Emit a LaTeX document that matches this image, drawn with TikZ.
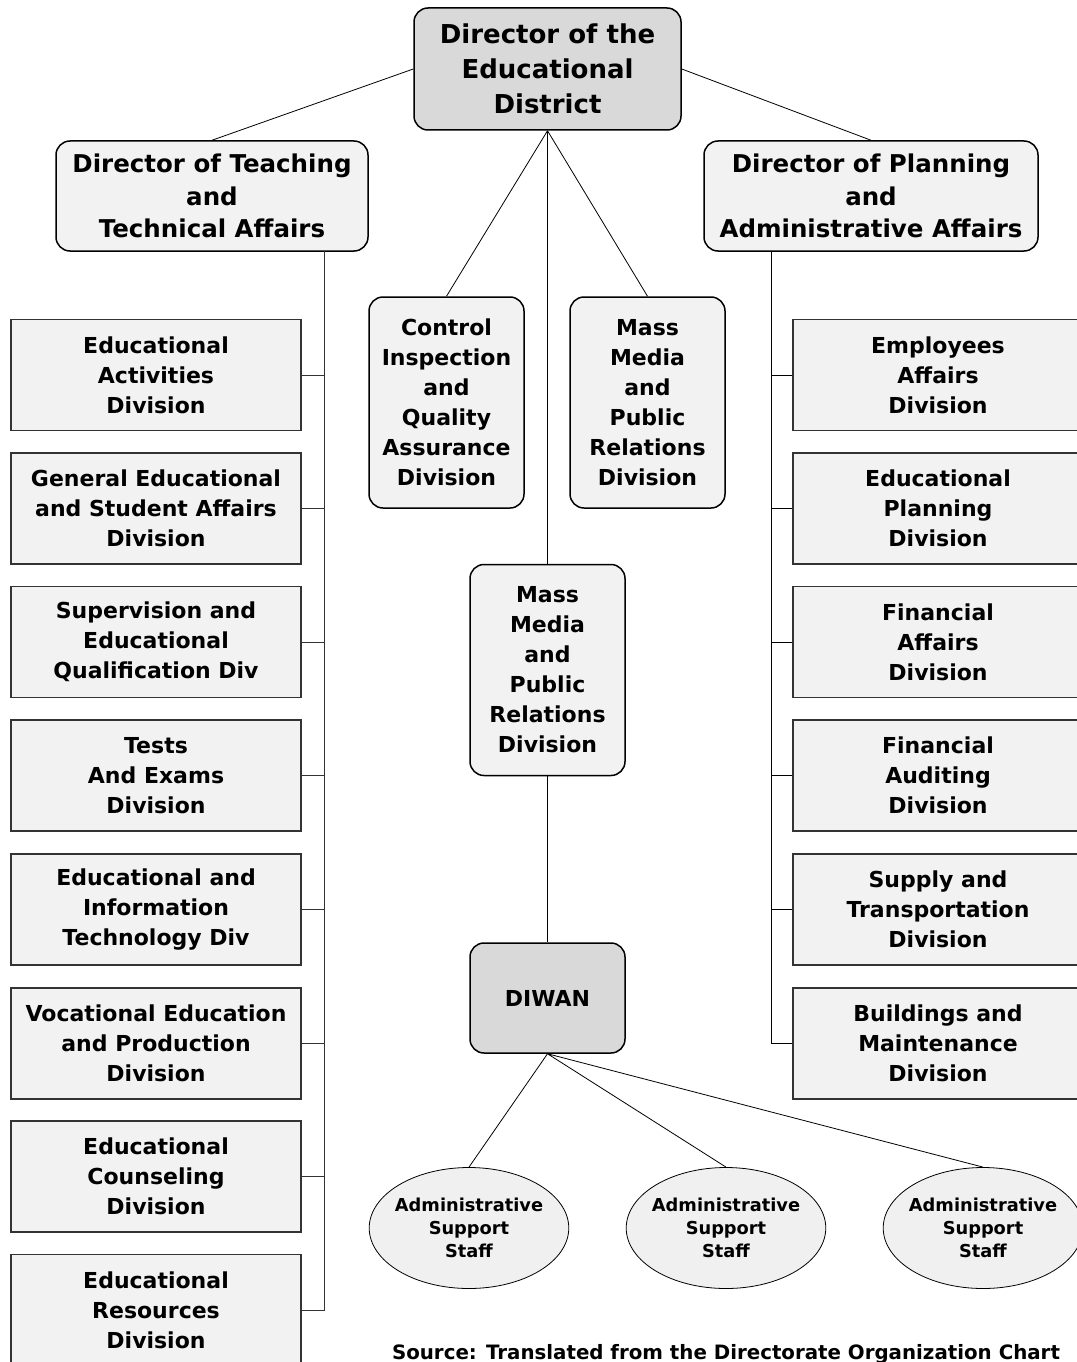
\documentclass[tikz,border=0pt]{standalone}
\usepackage{fontspec}
\setmainfont{DejaVu Sans}
\usetikzlibrary{shapes.geometric}
\begin{document}
\begin{tikzpicture}[x=1pt, y=-1pt,
    every node/.style={align=center, inner sep=0pt, font=\bfseries},
    topbox/.style={draw, line width=1.5pt, rounded corners=14pt, fill=black!15, minimum width=267pt, minimum height=122pt, font=\bfseries\fontsize{26}{35}\selectfont},
    headbox/.style={draw, line width=1.5pt, rounded corners=14pt, fill=black!5, minimum height=110pt, font=\bfseries\fontsize{24.5}{32.5}\selectfont},
    midbox/.style={draw, line width=1.5pt, rounded corners=14pt, fill=black!5, minimum width=155pt, minimum height=211pt, font=\bfseries\fontsize{22}{30}\selectfont},
    divbox/.style={draw=black!80, line width=1.2pt, fill=black!5, minimum width=290pt, minimum height=111pt, font=\bfseries\fontsize{22}{30}\selectfont},
    staff/.style={draw, ellipse, line width=0.8pt, fill=black!6, inner xsep=-3.5pt, minimum width=199pt, minimum height=121pt, font=\bfseries\fontsize{17.8}{23}\selectfont},
    link/.style={line width=0.8pt}]
  \useasboundingbox (0,0) rectangle (1076,1362);
      \node[topbox] (top) at (547.5,69) {Director of the\\Educational\\District};
      \node[headbox, minimum width=312pt] (tech) at (212,196) {Director of Teaching\\and\\Technical Affairs};
      \node[headbox, minimum width=334pt] (plan) at (871,196) {Director of Planning\\and\\Administrative Affairs};
      \node[midbox] (ctrl) at (446.5,402.5) {Control\\Inspection\\and\\Quality\\Assurance\\Division};
      \node[midbox] (media1) at (647.5,402.5) {Mass\\Media\\and\\Public\\Relations\\Division};
      \node[midbox] (media2) at (547.5,670) {Mass\\Media\\and\\Public\\Relations\\Division};
      \node[topbox, minimum width=155pt, minimum height=110pt, font=\bfseries\fontsize{22}{30}\selectfont] (diwan) at (547.5,998) {DIWAN};
      \node[staff] (staff1) at (469,1228) {Administrative\\Support\\Staff};
      \node[staff] (staff2) at (726,1228) {Administrative\\Support\\Staff};
      \node[staff] (staff3) at (983,1228) {Administrative\\Support\\Staff};
      \node[divbox] (ed1) at (156,375) {Educational\\Activities\\Division};
      \node[divbox] (ed2) at (156,508.5) {General Educational\\and Student Affairs\\Division};
      \node[divbox] (ed3) at (156,642) {Supervision and\\Educational\\Qualification Div};
      \node[divbox] (ed4) at (156,775.5) {Tests\\And Exams\\Division};
      \node[divbox] (ed5) at (156,909.5) {Educational and\\Information\\Technology Div};
      \node[divbox] (ed6) at (156,1043.5) {Vocational Education\\and Production\\Division};
      \node[divbox] (ed7) at (156,1176.5) {Educational\\Counseling\\Division};
      \node[divbox] (ed8) at (156,1310) {Educational\\Resources\\Division};
      \node[divbox] (ad1) at (938,375) {Employees\\Affairs\\Division};
      \node[divbox] (ad2) at (938,508.5) {Educational\\Planning\\Division};
      \node[divbox] (ad3) at (938,642) {Financial\\Affairs\\Division};
      \node[divbox] (ad4) at (938,775.5) {Financial\\Auditing\\Division};
      \node[divbox] (ad5) at (938,909.5) {Supply and\\Transportation\\Division};
      \node[divbox] (ad6) at (938,1043.5) {Buildings and\\Maintenance\\Division};
      \node[font=\bfseries\fontsize{19.8}{23}\selectfont] (src) at (726,1354) {Source: Translated from the Directorate Organization Chart};
      \coordinate (tbus) at (324,251);
      \coordinate (pbus) at (771,251);
      \draw[link] (top.west) to (tech.north) (top.east) to (plan.north);
      \draw[link] (top.south) to (ctrl.north) (top.south) to (media1.north) (top.south) to (media2.north);
      \draw[link] (media2.south) to (diwan.north);
      \draw[link] (diwan.south) to (staff1.north) (diwan.south) to (staff2.north) (diwan.south) to (staff3.north);
      \draw[link, black!80] (tbus) |- (ed8.east);
      \draw[link, black!80] (ed1.east) to (ed1.east -| tbus) (ed2.east) to (ed2.east -| tbus) (ed3.east) to (ed3.east -| tbus) (ed4.east) to (ed4.east -| tbus) (ed5.east) to (ed5.east -| tbus) (ed6.east) to (ed6.east -| tbus) (ed7.east) to (ed7.east -| tbus);
      \draw[link] (pbus) |- (ad6.west);
      \draw[link] (ad1.west) to (ad1.west -| pbus) (ad2.west) to (ad2.west -| pbus) (ad3.west) to (ad3.west -| pbus) (ad4.west) to (ad4.west -| pbus) (ad5.west) to (ad5.west -| pbus);
    \end{tikzpicture}
\end{document}
